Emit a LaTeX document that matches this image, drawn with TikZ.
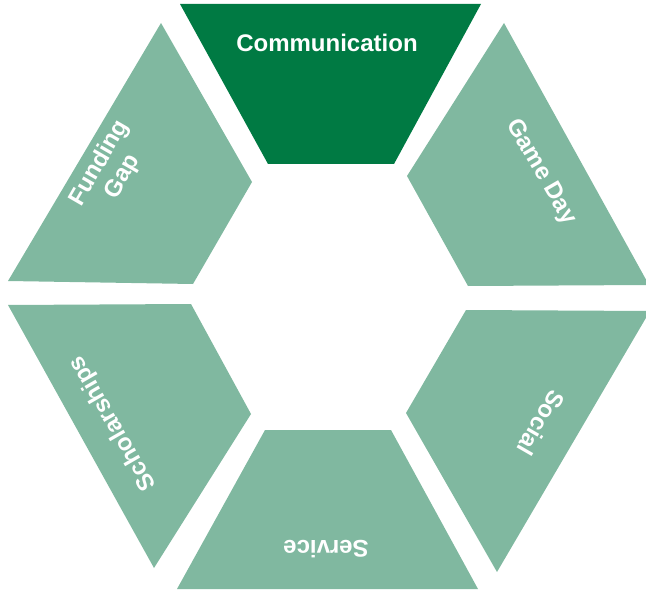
\documentclass[tikz,border=0pt]{standalone}
\usepackage{fontspec}
\setmainfont{Liberation Sans}
\definecolor{darkg}{RGB}{0,122,67}
\definecolor{lightg}{RGB}{128,184,160}
\begin{document}
\begin{tikzpicture}[x=1pt,y=-1pt,
  seg/.style={fill=lightg,draw=none},
  segdark/.style={fill=darkg,draw=none},
  lbl/.style={text=white,font=\fontsize{24}{27}\selectfont\bfseries,align=center,inner sep=0pt}]
\useasboundingbox (0,0) rectangle (646,591);
\clip (0,0) rectangle (646,591);
% segments
\fill[segdark] (180,4) -- (481,4) -- (394,164) -- (268,164) -- cycle;
\fill[seg] (161,23) -- (252,182) -- (193,284) -- (8,281) -- cycle;
\fill[seg] (504,23) -- (649,285) -- (468,286) -- (407,176) -- cycle;
\fill[seg] (8,305) -- (191,304) -- (251,414) -- (154,568) -- cycle;
\fill[seg] (466,310) -- (650,311) -- (497,572) -- (406,413) -- cycle;
\fill[seg] (265,430) -- (391,430) -- (478,589) -- (177,589) -- cycle;
% labels
\node[lbl] (comm) at (327,43) {Communication};
\node[lbl,rotate=60] (fund) at (111,170) {Funding\\Gap};
\node[lbl,rotate=-60] (game) at (541,172) {Game Day};
\node[lbl,rotate=-120] (soc) at (541,423) {Social};
\node[lbl,rotate=180] (serv) at (326,549) {Service};
\node[lbl,rotate=120] (schol) at (113,423) {Scholarships};
\end{tikzpicture}
\end{document}
